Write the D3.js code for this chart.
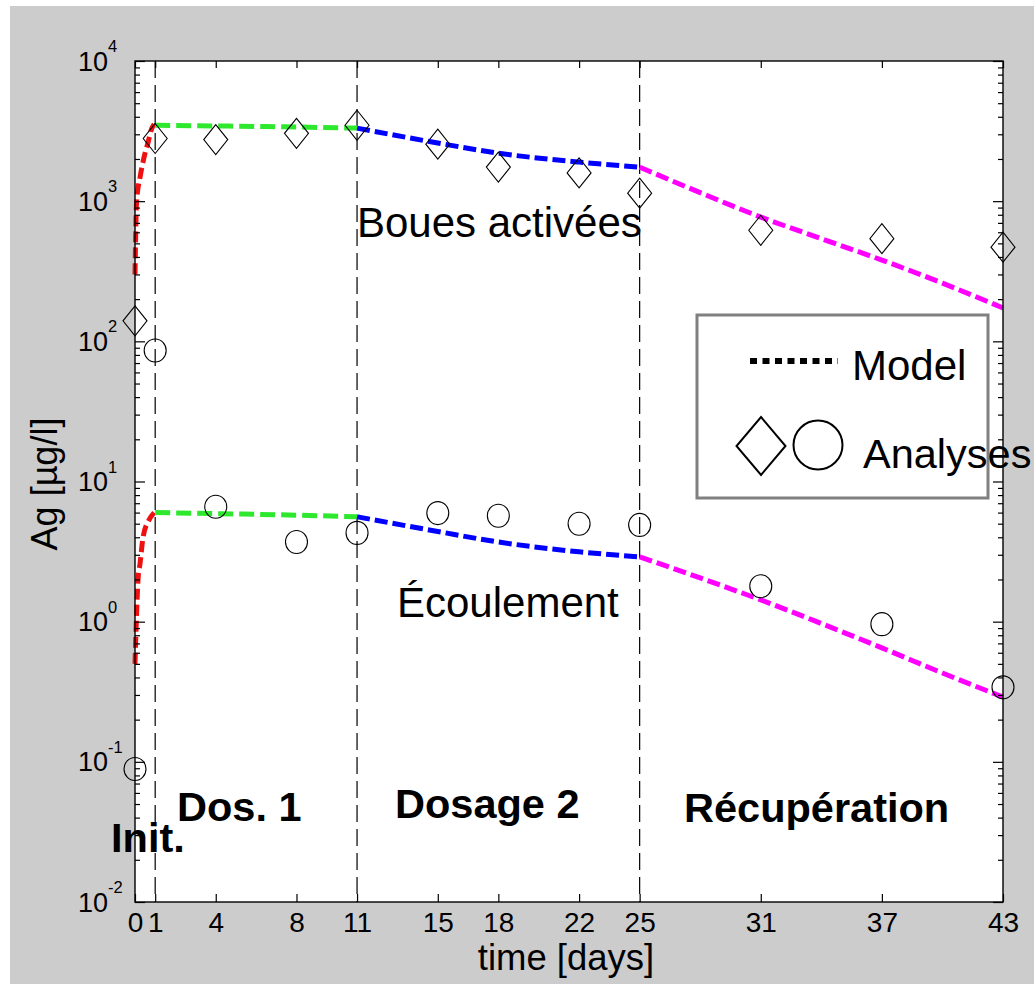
<!DOCTYPE html>
<html><head><meta charset="utf-8">
<script src="https://cdn.jsdelivr.net/npm/d3@7"></script>
<style>html,body{margin:0;padding:0;background:#fff;}svg{display:block;font-family:"Liberation Sans",Arial,Helvetica,sans-serif;}</style>
</head><body>
<script>
// ---- data ----
const tickDays = [0,1,4,8,11,15,18,22,25,31,37,43];
const yTickExp = [-2,-1,0,1,2,3,4];
const phaseBounds = [1,11,25];
const sampleT = [0,1,4,8,11,15,18,22,25,31,37,43];
const bouesObs = [140,2800,2750,3050,3480,2550,1750,1590,1140,620,540,470];
const ecoulObs = [0.089,86,6.6,3.7,4.3,5.95,5.7,5.0,4.9,1.79,0.96,0.34];
// model segments
const bouesInitT = [0,0.08,0.25,0.45,0.64,0.83,0.95];
const bouesInit  = [300,1000,1480,2060,2600,3300,3550];
const ecoulInitT = [0,0.08,0.15,0.25,0.4,0.69,0.95];
const ecoulInit  = [0.5,1.15,2.0,2.6,4.0,5.3,6.0];
const dos1T = [1,4,8,11];
const bouesDos1 = [3480,3440,3380,3320];
const ecoulDos1 = [6.0,5.9,5.75,5.6];
const dos2T = [11,15,18,22,25];
const bouesDos2 = [3320,2600,2200,1900,1750];
const ecoulDos2 = [5.6,4.4,3.7,3.15,2.9];
const recT = [25,28,31,34,37,40,43];
const bouesRec = [1750,1150,770,540,380,260,173];
const ecoulRec = [2.9,2.05,1.43,0.97,0.65,0.43,0.29];
const phaseColors = ["#ee1111","#2ee82e","#0000ff","#ff00ff"];

const W = 1034, H = 984;
const m = {l:135, t:61, r:1003, b:902};
const svg = d3.select("body").append("svg").attr("width",W).attr("height",H);
svg.append("rect").attr("x",10).attr("y",6).attr("width",W-10).attr("height",H-6).attr("fill","#cccccc");
svg.append("rect").attr("x",m.l).attr("y",m.t).attr("width",m.r-m.l).attr("height",m.b-m.t).attr("fill","#fff");

const x = d3.scaleLinear().domain([0,43]).range([m.l,m.r]);
const y = d3.scaleLog().domain([1e-2,1e4]).range([m.b,m.t]);

// phase boundaries
svg.selectAll(".pb").data(phaseBounds).join("line")
  .attr("x1",d=>x(d)).attr("x2",d=>x(d)).attr("y1",m.t).attr("y2",m.b)
  .attr("stroke","#000").attr("stroke-width",1.2).attr("stroke-dasharray","17,7");

// model lines
const line = d3.line().x(d=>x(d[0])).y(d=>y(d[1])).curve(d3.curveMonotoneX);
const segs = [
  [bouesInitT,bouesInit,0],[ecoulInitT,ecoulInit,0],
  [dos1T,bouesDos1,1],[dos1T,ecoulDos1,1],
  [dos2T,bouesDos2,2],[dos2T,ecoulDos2,2],
  [recT,bouesRec,3],[recT,ecoulRec,3]
];
segs.forEach(([ts,vs,c])=>{
  svg.append("path").datum(ts.map((t,i)=>[t,vs[i]])).attr("d",line)
    .attr("fill","none").attr("stroke",phaseColors[c]).attr("stroke-width",5)
    .attr("stroke-dasharray", c===0 ? "11,5" : (c===1 ? "15,6" : "13,5"));
});

// observations
svg.selectAll(".dia").data(sampleT.map((t,i)=>[t,bouesObs[i]])).join("path")
  .attr("transform",d=>`translate(${x(d[0])},${y(d[1])})`)
  .attr("d","M0,-15L12,0L0,15L-12,0Z").attr("fill","none").attr("stroke","#000").attr("stroke-width",1.1);
svg.selectAll(".cir").data(sampleT.map((t,i)=>[t,ecoulObs[i]])).join("ellipse")
  .attr("cx",d=>x(d[0])).attr("cy",d=>y(d[1])).attr("rx",11).attr("ry",11.5)
  .attr("fill","none").attr("stroke","#000").attr("stroke-width",1.1);

// axes
const majors = yTickExp.map(e=>Math.pow(10,e));
const minors = [];
yTickExp.slice(0,-1).forEach(e=>{for(let k=2;k<=9;k++) minors.push(k*Math.pow(10,e));});
const gL = svg.append("g").attr("transform",`translate(${m.l},0)`);
gL.call(d3.axisLeft(y).tickValues(majors).tickSize(-10).tickSizeOuter(0).tickFormat(""));
gL.append("g").call(d3.axisLeft(y).tickValues(minors).tickSize(-5).tickSizeOuter(0).tickFormat(""));
const gR = svg.append("g").attr("transform",`translate(${m.r},0)`);
gR.call(d3.axisRight(y).tickValues(majors).tickSize(-10).tickSizeOuter(0).tickFormat(""));
gR.append("g").call(d3.axisRight(y).tickValues(minors).tickSize(-5).tickSizeOuter(0).tickFormat(""));
const gB = svg.append("g").attr("transform",`translate(0,${m.b})`);
gB.call(d3.axisBottom(x).tickValues(tickDays).tickSize(-8).tickSizeOuter(0).tickPadding(10.5).tickFormat(d3.format("d")));
gB.selectAll("text").attr("font-size",28).attr("fill","#000").attr("font-family","Liberation Sans, Arial");
const gT = svg.append("g").attr("transform",`translate(0,${m.t})`);
gT.call(d3.axisTop(x).tickValues(tickDays).tickSize(-7).tickSizeOuter(0).tickFormat(""));
svg.selectAll(".domain").attr("stroke","none");
svg.selectAll(".tick line").attr("stroke","#000").attr("stroke-width",1.2);
svg.append("rect").attr("x",m.l).attr("y",m.t).attr("width",m.r-m.l).attr("height",m.b-m.t)
  .attr("fill","none").attr("stroke","#000").attr("stroke-width",1.4);

// y tick labels
yTickExp.forEach(e=>{
  const yy = y(Math.pow(10,e));
  svg.append("text").attr("x",108).attr("y",yy+9.5).attr("text-anchor","end").attr("font-size",27).text("10");
  svg.append("text").attr("x",108).attr("y",yy-9).attr("font-size",16.5).text(String(e));
});

// axis titles
svg.append("text").attr("x",566).attr("y",970).attr("text-anchor","middle").attr("font-size",36.5).text("time [days]");
svg.append("text").attr("transform","translate(57,484) rotate(-90)").attr("text-anchor","middle").attr("font-size",36).text("Ag [µg/l]");

// annotations
const ann = [
  ["Boues activées",357,237,false],
  ["Écoulement",397,617,false],
  ["Dos. 1",177,821,true],
  ["Init.",111,852,true],
  ["Dosage 2",395,818,true],
  ["Récupération",684,822,true]
];
ann.forEach(([t,ax,ay,b])=>{
  svg.append("text").attr("x",ax).attr("y",ay).attr("font-size",b?41.5:42).attr("font-weight",b?"bold":"normal").text(t);
});

// legend
svg.append("rect").attr("x",697).attr("y",315).attr("width",291).attr("height",183)
  .attr("fill","#fff").attr("stroke","#808080").attr("stroke-width",3);
svg.append("line").attr("x1",750).attr("x2",838).attr("y1",361).attr("y2",361)
  .attr("stroke","#000").attr("stroke-width",6).attr("stroke-dasharray","7,5.5");
svg.append("text").attr("x",852).attr("y",380).attr("font-size",42).text("Model");
svg.append("path").attr("transform","translate(761,446)").attr("d","M0,-29L24.5,0L0,29L-24.5,0Z")
  .attr("fill","none").attr("stroke","#000").attr("stroke-width",2);
svg.append("circle").attr("cx",818).attr("cy",445).attr("r",24.5).attr("fill","none").attr("stroke","#000").attr("stroke-width",2);
svg.append("text").attr("x",863).attr("y",468).attr("font-size",41.5).text("Analyses");
</script>
</body></html>
